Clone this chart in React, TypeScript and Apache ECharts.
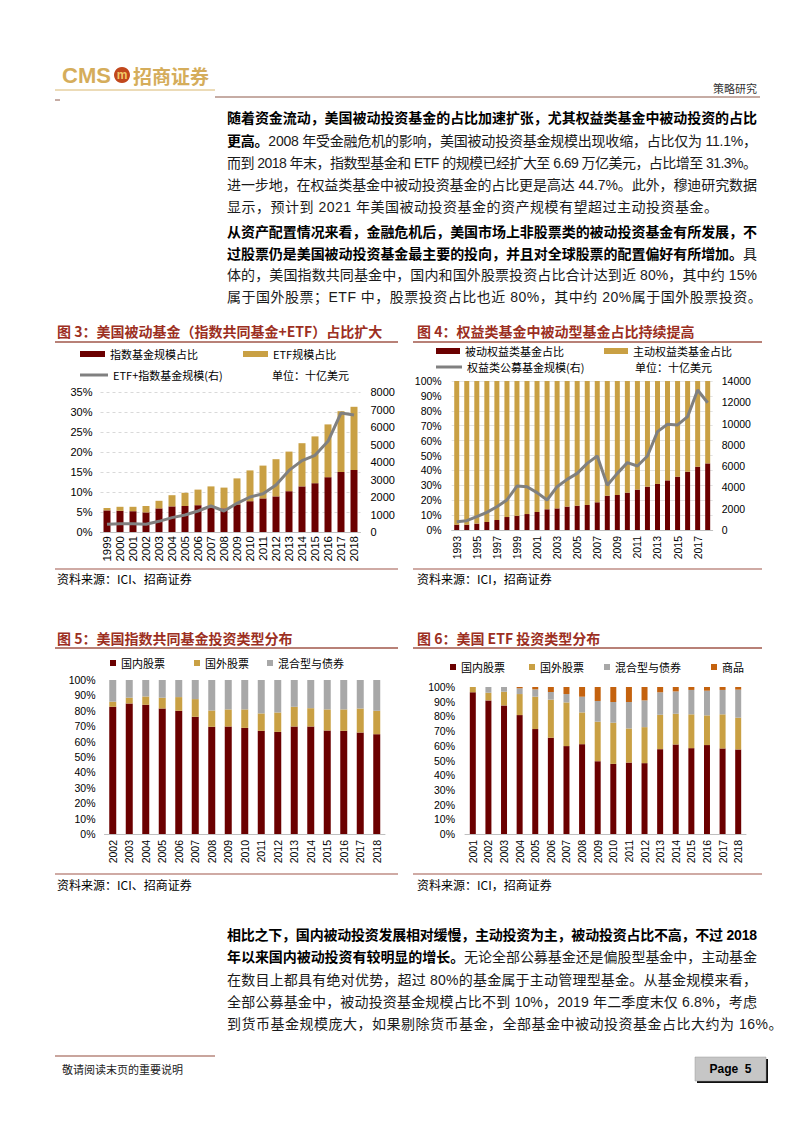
import React, { useEffect, useRef } from 'react';
import * as echarts from 'echarts';

// ---------- Data ----------
const years3 = ['1999','2000','2001','2002','2003','2004','2005','2006','2007','2008','2009','2010','2011','2012','2013','2014','2015','2016','2017','2018'];
const indexShare3 = [5.4, 5.3, 5.2, 4.9, 5.9, 6.4, 6.5, 6.7, 6.0, 5.9, 6.9, 7.7, 8.4, 8.9, 10.2, 11.4, 12.2, 13.7, 15.0, 15.5];
const etfShare3 = [0.6, 1.0, 1.1, 1.6, 1.9, 2.8, 3.3, 3.9, 5.4, 5.2, 6.5, 7.7, 8.2, 9.3, 9.9, 10.8, 11.7, 13.2, 15.2, 15.8];
const totalAum3 = [440, 476, 476, 440, 610, 820, 970, 1200, 1485, 1200, 1640, 2000, 2190, 2690, 3520, 4080, 4380, 5180, 6800, 6690];

const years4 = ['1993','1994','1995','1996','1997','1998','1999','2000','2001','2002','2003','2004','2005','2006','2007','2008','2009','2010','2011','2012','2013','2014','2015','2016','2017','2018'];
const passiveShare4 = [3.6, 3.6, 4.3, 5.4, 6.7, 8.7, 9.6, 10.7, 12.1, 13.9, 14.5, 15.7, 16.3, 16.8, 18.6, 23.0, 23.5, 25.1, 27.1, 29.1, 30.9, 33.3, 35.8, 39.1, 42.5, 44.7];
const activeShare4 = [96.4, 96.4, 95.7, 94.6, 93.3, 91.3, 90.4, 89.3, 87.9, 86.1, 85.5, 84.3, 83.7, 83.2, 81.4, 77.0, 76.5, 74.9, 72.9, 70.9, 69.1, 66.7, 64.2, 60.9, 57.5, 55.3];
const equityAum4 = [780, 880, 1250, 1660, 2190, 2820, 4130, 4070, 3510, 2820, 4070, 4760, 5320, 6260, 6950, 4200, 5320, 6330, 6010, 6950, 9240, 9930, 9870, 10650, 13150, 11960];

const years5 = ['2002','2003','2004','2005','2006','2007','2008','2009','2010','2011','2012','2013','2014','2015','2016','2017','2018'];
const domestic5 = [82.6, 84.8, 83.9, 81.5, 80.0, 76.1, 69.6, 69.8, 68.9, 67.0, 66.3, 69.8, 69.8, 67.2, 67.0, 65.9, 64.8];
const foreign5 = [3.3, 3.7, 5.4, 7.0, 8.9, 11.5, 10.6, 11.1, 12.0, 11.3, 12.6, 12.8, 11.9, 13.7, 13.9, 15.6, 15.2];
const mixed5 = [14.1, 11.5, 10.7, 11.5, 11.1, 12.4, 19.8, 19.1, 19.1, 21.7, 21.1, 17.4, 18.3, 19.1, 19.1, 18.5, 20.0];

const years6 = ['2001','2002','2003','2004','2005','2006','2007','2008','2009','2010','2011','2012','2013','2014','2015','2016','2017','2018'];
const domestic6 = [96.4, 90.9, 87.5, 80.9, 71.4, 65.5, 59.8, 61.1, 49.5, 47.7, 48.6, 48.2, 57.7, 60.9, 58.4, 60.5, 58.2, 57.5];
const foreign6 = [3.6, 5.2, 9.3, 14.3, 22.0, 25.9, 29.7, 21.6, 26.9, 28.0, 23.2, 24.5, 23.4, 20.9, 23.0, 20.2, 23.2, 21.6];
const mixed6 = [0, 3.9, 3.2, 3.9, 5.0, 5.2, 5.7, 10.7, 14.1, 14.1, 18.0, 18.2, 15.3, 15.2, 16.6, 16.8, 16.6, 19.1];
const commodity6 = [0, 0, 0, 0.9, 1.6, 3.4, 4.8, 6.6, 9.5, 10.2, 10.2, 9.1, 3.6, 3.0, 2.0, 2.5, 2.0, 1.8];

// ---------- Text ----------
type Seg = { t: string; b?: boolean };
const para1: Seg[][] = [
  [{ t: '随着资金流动，美国被动投资基金的占比加速扩张，尤其权益类基金中被动投资的占比', b: true }],
  [{ t: '更高。', b: true }, { t: '2008 年受金融危机的影响，美国被动投资基金规模出现收缩，占比仅为 11.1%，' }],
  [{ t: '而到 2018 年末，指数型基金和 ETF 的规模已经扩大至 6.69 万亿美元，占比增至 31.3%。' }],
  [{ t: '进一步地，在权益类基金中被动投资基金的占比更是高达 44.7%。此外，穆迪研究数据' }],
  [{ t: '显示，预计到 2021 年美国被动投资基金的资产规模有望超过主动投资基金。' }],
];
const para2: Seg[][] = [
  [{ t: '从资产配置情况来看，金融危机后，美国市场上非股票类的被动投资基金有所发展，不', b: true }],
  [{ t: '过股票仍是美国被动投资基金最主要的投向，并且对全球股票的配置偏好有所增加。', b: true }, { t: '具' }],
  [{ t: '体的，美国指数共同基金中，国内和国外股票投资占比合计达到近 80%，其中约 15%' }],
  [{ t: '属于国外股票；ETF 中，股票投资占比也近 80%，其中约 20%属于国外股票投资。' }],
];
const para3: Seg[][] = [
  [{ t: '相比之下，国内被动投资发展相对缓慢，主动投资为主，被动投资占比不高，不过 2018', b: true }],
  [{ t: '年以来国内被动投资有较明显的增长。', b: true }, { t: '无论全部公募基金还是偏股型基金中，主动基金' }],
  [{ t: '在数目上都具有绝对优势，超过 80%的基金属于主动管理型基金。从基金规模来看，' }],
  [{ t: '全部公募基金中，被动投资基金规模占比不到 10%，2019 年二季度末仅 6.8%，考虑' }],
  [{ t: '到货币基金规模庞大，如果剔除货币基金，全部基金中被动投资基金占比大约为 16%。' }],
];

const FONT_BODY = '"Liberation Sans", "Noto Sans CJK SC", sans-serif';
const CJK = '"Noto Sans CJK SC", sans-serif';
const NUM = '"Liberation Sans", Arial, sans-serif';

const C_DARK = '#6B0000';
const C_GOLD = '#C9A044';
const C_GRAY = '#A8A8A8';
const C_LINE = '#808080';
const C_ORANGE = '#C4620E';
const C_TITLE = '#9C2F22';
const C_RULE = '#A0574A';

let measureCtx: CanvasRenderingContext2D | null = null;
function measure(segs: Seg[], size: number): number {
  if (!measureCtx) measureCtx = document.createElement('canvas').getContext('2d');
  let w = 0;
  for (const s of segs) {
    measureCtx!.font = `${s.b ? 'bold' : 'normal'} ${size}px ${FONT_BODY}`;
    w += measureCtx!.measureText(s.t).width;
  }
  return w;
}

function Line({ segs, cy, justify }: { segs: Seg[]; cy: number; justify: boolean }) {
  const size = 14;
  const n = segs.reduce((a, s) => a + Array.from(s.t).length, 0);
  const nat = measure(segs, size);
  const ls = justify ? (530 - nat) / (n - 1) : 0.5;
  return (
    <div
      style={{
        position: 'absolute', left: 227, top: cy - 10, height: 20, lineHeight: '20px',
        fontSize: size, fontFamily: FONT_BODY, whiteSpace: 'nowrap', letterSpacing: ls + 'px', color: '#1a1a1a',
      }}
    >
      {segs.map((s, i) => (
        <span key={i} style={{ fontWeight: s.b ? 700 : 400, color: s.b ? '#000' : '#1a1a1a' }}>{s.t}</span>
      ))}
    </div>
  );
}

function Para({ lines, ys }: { lines: Seg[][]; ys: number[] }) {
  return (
    <>
      {lines.map((l, i) => (
        <Line key={i} segs={l} cy={ys[i]} justify={i < lines.length - 1} />
      ))}
    </>
  );
}

function txt(x: number, y: number, text: string, o: any = {}) {
  return {
    type: 'text', silent: true,
    style: {
      x, y, text, fontSize: o.fontSize ?? 12, fontWeight: o.fontWeight ?? 'normal',
      fontFamily: o.fontFamily ?? CJK, fill: o.fill ?? '#000', align: o.align ?? 'left', verticalAlign: 'middle',
    },
  };
}
function ln(x1: number, y1: number, x2: number, y2: number, stroke: string, lineWidth = 1) {
  return { type: 'line', silent: true, shape: { x1, y1, x2, y2 }, style: { stroke, lineWidth } };
}

function legendItem(name: string, left: number, cy: number, iw: number, ih: number) {
  return {
    data: [name], left, top: cy - 7, padding: 0, itemWidth: iw, itemHeight: ih, selectedMode: false, icon: 'rect',
    textStyle: { fontSize: 11, color: '#000', fontFamily: CJK, lineHeight: 14 },
  };
}

function pctAxis(grid: number, max: number, interval: number, fs: number, margin: number, split: any) {
  return {
    type: 'value', gridIndex: grid, min: 0, max, interval,
    axisLine: { show: false }, axisTick: { show: false },
    axisLabel: { formatter: '{value}%', fontSize: fs, color: '#000', fontFamily: NUM, margin },
    splitLine: split,
  };
}
function valAxis(grid: number, max: number, interval: number, fs: number, margin: number) {
  return {
    type: 'value', gridIndex: grid, position: 'right', min: 0, max, interval,
    axisLine: { show: false }, axisTick: { show: false },
    axisLabel: { fontSize: fs, color: '#000', fontFamily: NUM, margin, formatter: (v: number) => String(v) },
    splitLine: { show: false },
  };
}
function catAxis(grid: number, data: string[], fs: number, margin: number, interval: number = 0) {
  return {
    type: 'category', gridIndex: grid, data,
    axisLine: { show: true, lineStyle: { color: '#BFBFBF', width: 1 } },
    axisTick: { show: false },
    axisLabel: { rotate: 90, fontSize: fs, color: '#000', fontFamily: NUM, margin, interval },
  };
}
function bar(name: string, data: number[], x: number, y: number, stack: string, color: string, w: number) {
  return {
    name, type: 'bar', data, xAxisIndex: x, yAxisIndex: y, stack, barWidth: w,
    itemStyle: { color }, emphasis: { disabled: true },
  };
}

export default function App() {
  const ref = useRef<HTMLDivElement>(null);
  useEffect(() => {
    if (!ref.current) return;
    const chart = echarts.init(ref.current, undefined, { renderer: 'svg' });
    const dashed = { show: true, lineStyle: { color: '#D9D9D9', type: [3, 3], width: 1 } };
    const solid = { show: true, lineStyle: { color: '#E3E3E3', width: 1 } };
    const option: any = {
      animation: false,
      grid: [
        { left: 100.5, top: 392, width: 260, height: 140 },
        { left: 451.7, top: 381, width: 261, height: 149 },
        { left: 104.5, top: 680, width: 280.5, height: 154 },
        { left: 465, top: 687, width: 281, height: 147 },
      ],
      xAxis: [
        catAxis(0, years3, 11.5, 4),
        catAxis(1, years4, 10.5, 6, 1),
        catAxis(2, years5, 10.5, 6),
        catAxis(3, years6, 10.5, 6),
      ],
      yAxis: [
        pctAxis(0, 35, 5, 11, 8, dashed),
        valAxis(0, 8000, 1000, 11, 10),
        pctAxis(1, 100, 10, 10.5, 10, solid),
        valAxis(1, 14000, 2000, 10.5, 9),
        pctAxis(2, 100, 10, 10.5, 9, { show: false }),
        pctAxis(3, 100, 10, 10.5, 10, { show: false }),
      ],
      legend: [
        legendItem('指数基金规模占比', 80, 354, 25, 6),
        legendItem('ETF规模占比', 243, 354, 25, 6),
        legendItem('ETF+指数基金规模(右)', 80, 375, 28, 3),
        legendItem('被动权益类基金占比', 436, 351, 24, 6),
        legendItem('主动权益类基金占比', 604, 351, 24, 6),
        legendItem('权益类公募基金规模(右)', 436, 367, 26, 3),
        legendItem('国内股票', 110, 663, 6, 6),
        legendItem('国外股票', 194, 663, 6, 6),
        legendItem('混合型与债券', 267, 663, 6, 6),
        legendItem('国内股票', 450, 667, 6, 6),
        legendItem('国外股票', 529, 667, 6, 6),
        legendItem('混合型与债券', 604, 667, 6, 6),
        legendItem('商品', 711, 667, 6, 6),
      ],
      series: [
        bar('指数基金规模占比', indexShare3, 0, 0, 's3', C_DARK, 7),
        bar('ETF规模占比', etfShare3, 0, 0, 's3', C_GOLD, 7),
        {
          name: 'ETF+指数基金规模(右)', type: 'line', data: totalAum3, xAxisIndex: 0, yAxisIndex: 1,
          symbol: 'none', lineStyle: { color: C_LINE, width: 3 }, itemStyle: { color: C_LINE }, z: 5,
        },
        bar('被动权益类基金占比', passiveShare4, 1, 2, 's4', C_DARK, 5),
        bar('主动权益类基金占比', activeShare4, 1, 2, 's4', C_GOLD, 5),
        {
          name: '权益类公募基金规模(右)', type: 'line', data: equityAum4, xAxisIndex: 1, yAxisIndex: 3,
          symbol: 'none', lineStyle: { color: C_LINE, width: 3 }, itemStyle: { color: C_LINE }, z: 5,
        },
        bar('国内股票', domestic5, 2, 4, 's5', C_DARK, 7),
        bar('国外股票', foreign5, 2, 4, 's5', C_GOLD, 7),
        bar('混合型与债券', mixed5, 2, 4, 's5', C_GRAY, 7),
        bar('国内股票', domestic6, 3, 5, 's6', C_DARK, 6),
        bar('国外股票', foreign6, 3, 5, 's6', C_GOLD, 6),
        bar('混合型与债券', mixed6, 3, 5, 's6', C_GRAY, 6),
        bar('商品', commodity6, 3, 5, 's6', C_ORANGE, 6),
      ],
      graphic: [
        // header
        txt(62, 75, 'CMS', { fontSize: 22, fontWeight: 'bold', fontFamily: NUM, fill: '#D5AD5B' }),
        { type: 'circle', silent: true, shape: { cx: 122, cy: 75, r: 8 }, style: { fill: '#C1471C' } },
        txt(122, 75, 'm', { fontSize: 12, fontWeight: 'bold', fontFamily: NUM, fill: '#F2C867', align: 'center' }),
        txt(133, 75, '招商证券', { fontSize: 19, fontWeight: 'bold', fill: '#D5AD5B' }),
        ln(55, 90, 215, 90, '#D9B870', 1),
        ln(215, 97, 760, 97, '#8E5B4B', 1.2),
        ln(55, 100, 60, 100, '#8E5B4B', 1),
        txt(757, 88, '策略研究', { fontSize: 11, fill: '#333', align: 'right' }),
        // figure titles
        txt(57, 331, '图 3：美国被动基金（指数共同基金+ETF）占比扩大', { fontSize: 14, fontWeight: 'bold', fill: C_TITLE }),
        txt(417, 331, '图 4：权益类基金中被动型基金占比持续提高', { fontSize: 14, fontWeight: 'bold', fill: C_TITLE }),
        txt(57, 638, '图 5：美国指数共同基金投资类型分布', { fontSize: 14, fontWeight: 'bold', fill: C_TITLE }),
        txt(417, 638, '图 6：美国 ETF 投资类型分布', { fontSize: 14, fontWeight: 'bold', fill: C_TITLE }),
        ln(55, 342, 398, 342, C_RULE, 1.5),
        ln(413, 342, 762, 342, C_RULE, 1.5),
        ln(55, 648, 398, 648, C_RULE, 1.5),
        ln(413, 648, 762, 648, C_RULE, 1.5),
        // units
        txt(272, 375, '单位：十亿美元', { fontSize: 11 }),
        txt(635, 367, '单位：十亿美元', { fontSize: 11 }),
        // sources
        ln(55, 569, 398, 569, C_RULE, 1.2),
        ln(413, 569, 762, 569, C_RULE, 1.2),
        ln(55, 874, 398, 874, C_RULE, 1.2),
        ln(413, 874, 762, 874, C_RULE, 1.2),
        txt(57, 578, '资料来源：ICI、招商证券', { fontSize: 12 }),
        txt(417, 578, '资料来源：ICI，招商证券', { fontSize: 12 }),
        txt(57, 884, '资料来源：ICI、招商证券', { fontSize: 12 }),
        txt(417, 884, '资料来源：ICI，招商证券', { fontSize: 12 }),
        // footer
        ln(55, 1056, 215, 1056, '#C9A59D', 2),
        txt(62, 1069, '敬请阅读末页的重要说明', { fontSize: 11, fill: '#222' }),
        { type: 'rect', silent: true, shape: { x: 697, y: 1059, width: 71, height: 24 }, style: { fill: '#111' } },
        { type: 'rect', silent: true, shape: { x: 695, y: 1057, width: 71, height: 24 }, style: { fill: '#C6C6C6', stroke: '#9A9A9A', lineWidth: 0.5 } },
        txt(730.5, 1069, 'Page  5', { fontSize: 12, fontWeight: 'bold', fontFamily: NUM, align: 'center' }),
      ],
    };
    chart.setOption(option);
    return () => chart.dispose();
  }, []);

  return (
    <div style={{ position: 'absolute', left: 0, top: 0, width: 800, height: 1132, background: '#fff' }}>
      <div ref={ref} style={{ position: 'absolute', left: 0, top: 0, width: 800, height: 1132 }} />
      <Para lines={para1} ys={[118, 140.5, 163, 185, 207]} />
      <Para lines={para2} ys={[232, 253.5, 275, 297]} />
      <Para lines={para3} ys={[935, 957, 979.5, 1001.5, 1023.5]} />
    </div>
  );
}
